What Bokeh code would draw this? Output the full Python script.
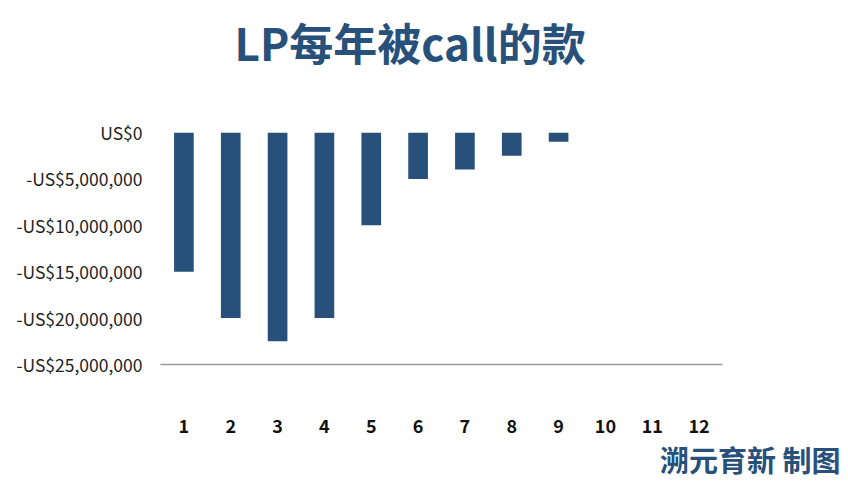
from bokeh.plotting import figure
from bokeh.models import FactorRange, Range1d, FixedTicker, CustomJSTickFormatter, Title
from bokeh.embed import file_html
from bokeh.resources import INLINE

years = [str(i) for i in range(1, 13)]
calls = [-15e6, -20e6, -22.5e6, -20e6, -10e6, -5e6, -4e6, -2.5e6, -1e6, 0, 0, 0]
y_ticks = [0, -5e6, -10e6, -15e6, -20e6, -25e6]
title_text = "LP每年被call的款"
credit_text = "溯元育新 制图"

BLUE = "#27507a"
FONT = "Noto Sans CJK SC"

p = figure(width=848, height=488, x_range=FactorRange(*years),
           y_range=Range1d(-25e6, 0), output_backend="svg", toolbar_location=None,
           min_border_left=160, min_border_right=126, min_border_top=132, min_border_bottom=124)

p.vbar(x=years, top=[0]*len(years), bottom=calls, width=0.42, color=BLUE, line_color=None)

p.grid.visible = False
p.outline_line_color = None

p.yaxis.ticker = FixedTicker(ticks=y_ticks)
p.yaxis.formatter = CustomJSTickFormatter(code="""
const a = Math.abs(tick);
return (tick < 0 ? '-' : '') + 'US$' + a.toLocaleString('en-US');
""")
p.yaxis.axis_line_color = None
p.yaxis.major_tick_line_color = None
p.yaxis.major_tick_out = 0
p.yaxis.minor_tick_line_color = None
p.yaxis.major_label_text_font = FONT
p.yaxis.major_label_text_font_size = "17.5px"
p.yaxis.major_label_text_color = "#222222"
p.yaxis.major_label_standoff = 18

p.xaxis.axis_line_color = "#9a9a9a"
p.xaxis.axis_line_width = 1.5
p.xaxis.major_tick_line_color = None
p.xaxis.major_tick_out = 0
p.xaxis.minor_tick_line_color = None
p.xaxis.major_label_text_font = FONT
p.xaxis.major_label_text_font_style = "bold"
p.xaxis.major_label_text_font_size = "18px"
p.xaxis.major_label_text_color = "#111111"
p.xaxis.major_label_standoff = 54

# spacer panel between the frame and the title
spacer = Title(text=" ", standoff=32, text_font=FONT, text_font_size="10px")
p.add_layout(spacer, "above")

title = Title(text=title_text, align="left", offset=74, standoff=16,
              vertical_align="top",
              text_font=FONT, text_font_style="bold", text_font_size="44px",
              text_color=BLUE)
p.add_layout(title, "above")

credit = Title(text=credit_text, align="right", offset=-118, standoff=0,
               text_font=FONT, text_font_style="bold", text_font_size="29px",
               text_color=BLUE)
p.add_layout(credit, "below")

open("out.html", "w").write(file_html(p, INLINE))
